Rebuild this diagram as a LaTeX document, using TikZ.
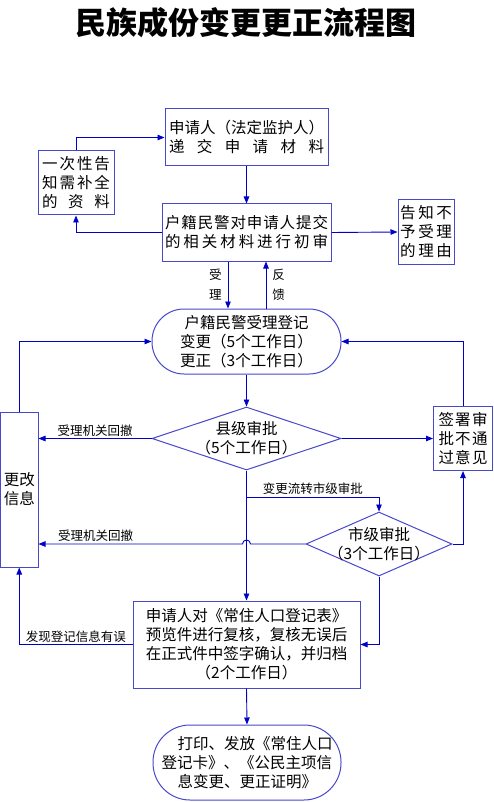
\documentclass[tikz,border=0pt]{standalone}
\usepackage{fontspec}
\setmainfont{Noto Sans CJK SC}
\usetikzlibrary{shapes.geometric, calc, arrows.meta}
\definecolor{lineblue}{RGB}{0,0,200}
\definecolor{boxblue}{RGB}{72,72,204}
\newcommand{\spreadline}[2]{\makebox[#1][s]{#2}}

\begin{document}
\begin{tikzpicture}[x=1pt, y=-1pt,
  box/.style={draw=boxblue, line width=1pt, inner sep=0pt, align=center, font=\fontsize{15.5}{19}\selectfont},
  pill/.style={box, rounded corners=#1},
  dia/.style={draw=boxblue, line width=1pt, diamond, inner sep=0pt},
  dtext/.style={inner sep=0pt, align=center, font=\fontsize{15.5}{19}\selectfont},
  lbl/.style={font=\fontsize{12.5}{20}\selectfont, inner sep=2pt},
  flow/.style={draw=lineblue, line width=0.9pt, -{Triangle[length=7pt,width=5.5pt]}}]
  \useasboundingbox (0,0) rectangle (493,802);
  \node[font=\fontsize{31}{36}\selectfont\bfseries] (title) at (246,23) {民族成份变更更正流程图};

  \node[box, minimum width=163, minimum height=57] (apply) at (246.5,137.5) {申请人（法定监护人）\\\spreadline{155pt}{递\hfil 交\hfil 申\hfil 请\hfil 材\hfil 料}};
  \node[box, minimum width=76, minimum height=64] (notice) at (76,183) {\spreadline{68pt}{一\hfil 次\hfil 性\hfil 告}\\\spreadline{68pt}{知\hfil 需\hfil 补\hfil 全}\\\spreadline{68pt}{的\hfil 资\hfil 料}};
  \node[box, minimum width=169, minimum height=57] (review) at (246.5,232.5) {\spreadline{163pt}{户\hfil 籍\hfil 民\hfil 警\hfil 对\hfil 申\hfil 请\hfil 人\hfil 提\hfil 交}\\\spreadline{163pt}{的\hfil 相\hfil 关\hfil 材\hfil 料\hfil 进\hfil 行\hfil 初\hfil 审}};
  \node[box, minimum width=56, minimum height=64] (refuse) at (426,232) {\spreadline{52pt}{告\hfil 知\hfil 不}\\\spreadline{52pt}{予\hfil 受\hfil 理}\\\spreadline{52pt}{的\hfil 理\hfil 由}};
  \node[pill=32pt, minimum width=189, minimum height=65] (register) at (246.5,341.5) {户籍民警受理登记\\变更（5个工作日）\\更正（3个工作日）};
  \node[dia, minimum width=189, minimum height=63] (county) at (246.5,438.5) {};
  \node[dtext] (countytext) at (county) {县级审批\\（5个工作日）};
  \node[box, minimum width=59, minimum height=64] (veto) at (463,438.5) {\spreadline{49pt}{签\hfil 署\hfil 审}\\\spreadline{49pt}{批\hfil 不\hfil 通}\\\spreadline{49pt}{过\hfil 意\hfil 见}};
  \node[box, minimum width=37.5, minimum height=155] (amend) at (19.25,489.5) {更改\\信息};
  \node[dia, minimum width=146, minimum height=64] (city) at (379,544) {};
  \node[dtext] (citytext) at (city) {市级审批\\（3个工作日）};
  \node[box, minimum width=227, minimum height=87] (confirm) at (246.5,644.5) {申请人对《常住人口登记表》\\预览件进行复核，复核无误后\\在正式件中签字确认，并归档\\（2个工作日）};
  \node[pill=37pt, minimum width=188, minimum height=75, align=left] (issue) at (247,762.5) {\hspace{16pt}打印、发放《常住人口\\登记卡》、《公民主项信\\\hspace{16pt}息变更、更正证明》};

  % 受理前的材料审查
  \draw[flow] (notice.north) |- (apply.west);
  \draw[flow] (apply.south) -- (review.north);
  \draw[flow] (review.west) -| (notice.south);
  \draw[flow] (review.east) -- (refuse.west);
  \draw[flow] ([xshift=-18.5pt]review.south) -- node[lbl, left=4pt, align=center] {受\\理} ([xshift=-18.5pt]register.north);
  \draw[flow] ([xshift=19.5pt]register.north) -- node[lbl, right=4pt, align=center] {反\\馈} ([xshift=19.5pt]review.south);

  % 审批及退回
  \draw[flow] (amend.north) |- (register.west);
  \draw[flow] (veto.north) |- (register.east);
  \draw[flow] (register.south) -- (county.north);
  \draw[flow] (county.west) -- node[lbl, above] {受理机关回撤} (amend.east |- county.west);
  \draw[flow] (county.east) -- (veto.west);
  \draw[flow] (county.south) -- (confirm.north);
  \coordinate (fork) at (246.5,497);
  \draw[flow] (fork) -| node[lbl, above, pos=0.25] {变更流转市级审批} (city.north);
  \draw[flow] (city.west) -- ($(city.west -| county.south)+(4,0)$) arc[start angle=0, end angle=180, radius=4pt] -- node[lbl, above, pos=0.72] {受理机关回撤} (amend.east |- city.west);
  \draw[flow] (city.east) -| (veto.south);
  \draw[flow] (city.south) |- (confirm.east);

  % 复核与发证
  \draw[flow] (confirm.west) -| node[lbl, above, pos=0.25] {发现登记信息有误} (amend.south);
  \draw[flow] (confirm.south) -- (issue.north);
\end{tikzpicture}
\end{document}
